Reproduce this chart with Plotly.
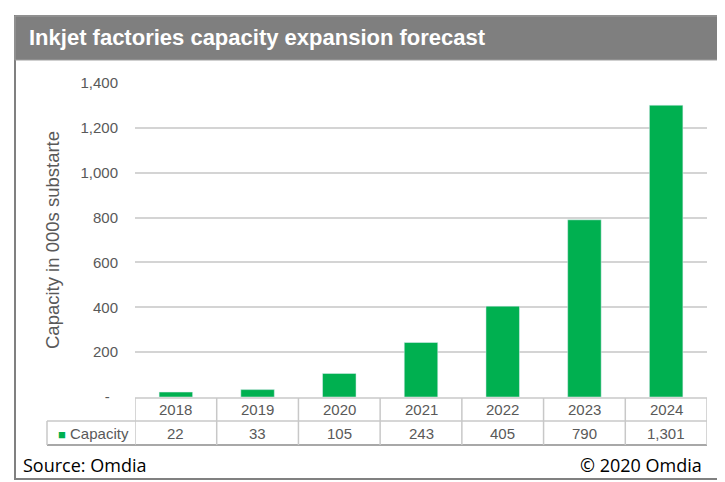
import plotly.graph_objects as go

# ---- data ----
years = ["2018", "2019", "2020", "2021", "2022", "2023", "2024"]
capacity = [22, 33, 105, 243, 405, 790, 1301]
series_name = "Capacity"
y_tickvals = [0, 200, 400, 600, 800, 1000, 1200, 1400]
y_ticktext = ["-\u00a0\u00a0", "200", "400", "600", "800", "1,000", "1,200", "1,400"]
title_text = "Inkjet factories capacity expansion forecast"
y_title = "Capacity in 000s substarte"
source_text = "Source: Omdia"
copyright_text = "© 2020 Omdia"

# ---- layout geometry (page body has an 8px margin) ----
OFF = 8
VW, VH = 725, 482
W, H = VW - OFF, VH - OFF
PLOT_LEFT, PLOT_RIGHT, PLOT_TOP, PLOT_BOTTOM = 135, 707, 83, 397   # viewport px
L = PLOT_LEFT - OFF
R = W - (PLOT_RIGHT - OFF)
T = PLOT_TOP - OFF
B = H - (PLOT_BOTTOM - OFF)
PW, PH = W - L - R, H - T - B
GREEN = "#00b050"
GREY_TXT = "#595959"
FONT = "Liberation Sans, Arial, sans-serif"


def px(x):
    # viewport pixel -> paper fraction
    return (x - OFF - L) / PW


def py(y):
    return (H - B - (y - OFF)) / PH


fig = go.Figure()
fig.add_trace(go.Bar(x=years, y=capacity, name=series_name, marker_color=GREEN,
                     width=0.41, showlegend=False))

shapes = []
shapes.append(dict(type="rect", xref="paper", yref="paper", x0=px(15), x1=px(735),
                   y0=py(16), y1=py(479), fillcolor="white",
                   line=dict(color="#808080", width=2), layer="below"))
shapes.append(dict(type="rect", xref="paper", yref="paper", x0=px(15), x1=px(735),
                   y0=py(16), y1=py(60), fillcolor="#7f7f7f",
                   line=dict(color="#a0a0a0", width=1), layer="below"))

TBL = "#c8c8c8"
top, mid, bot = 398, 421, 445
n = len(years)
shapes.append(dict(type="line", xref="x", yref="paper", x0=-0.5, x1=n - 0.5,
                   y0=py(top), y1=py(top), line=dict(color=TBL, width=1.5)))
shapes.append(dict(type="line", xref="paper", yref="paper", x0=px(47), x1=1,
                   y0=py(mid), y1=py(mid), line=dict(color=TBL, width=1.5)))
shapes.append(dict(type="line", xref="paper", yref="paper", x0=px(47), x1=1,
                   y0=py(bot), y1=py(bot), line=dict(color="#a8a8a8", width=2)))
shapes.append(dict(type="line", xref="paper", yref="paper", x0=px(47), x1=px(47),
                   y0=py(mid), y1=py(bot), line=dict(color=TBL, width=1.5)))
for i in range(n + 1):
    shapes.append(dict(type="line", xref="x", yref="paper", x0=i - 0.5, x1=i - 0.5,
                       y0=py(top), y1=py(bot), line=dict(color=TBL, width=1.5)))

annotations = []
annotations.append(dict(text=title_text, xref="paper", yref="paper", x=px(27), y=py(38),
                        xanchor="left", yanchor="middle", showarrow=False,
                        font=dict(family=FONT, size=22, color="white", weight="bold")))
annotations.append(dict(text=y_title, xref="paper", yref="paper", x=px(52), y=py(240),
                        xanchor="center", yanchor="middle", textangle=-90, showarrow=False,
                        font=dict(family=FONT, size=18.5, color=GREY_TXT)))
for i, (yr, v) in enumerate(zip(years, capacity)):
    annotations.append(dict(text=yr, xref="x", yref="paper", x=i, y=py((top + mid) / 2),
                            xanchor="center", yanchor="middle", showarrow=False,
                            font=dict(family=FONT, size=15, color=GREY_TXT)))
    annotations.append(dict(text=f"{v:,}", xref="x", yref="paper", x=i, y=py((mid + bot) / 2),
                            xanchor="center", yanchor="middle", showarrow=False,
                            font=dict(family=FONT, size=15, color=GREY_TXT)))
annotations.append(dict(text=f'<span style="color:{GREEN};font-size:13px">■</span> {series_name}',
                        xref="paper", yref="paper", x=px(131), y=py((mid + bot) / 2),
                        xanchor="right", yanchor="middle", showarrow=False,
                        font=dict(family=FONT, size=15, color=GREY_TXT)))
annotations.append(dict(text=source_text, xref="paper", yref="paper", x=px(21), y=py(465),
                        xanchor="left", yanchor="middle", showarrow=False,
                        font=dict(family="Open Sans, sans-serif", size=18, color="black")))
annotations.append(dict(text=copyright_text, xref="paper", yref="paper", x=px(704), y=py(465),
                        xanchor="right", yanchor="middle", showarrow=False,
                        font=dict(family="Open Sans, sans-serif", size=18, color="black")))

fig.update_layout(
    width=W, height=H,
    margin=dict(l=L, r=R, t=T, b=B),
    paper_bgcolor="white",
    plot_bgcolor="rgba(0,0,0,0)",
    shapes=shapes,
    annotations=annotations,
    xaxis=dict(showticklabels=False, showgrid=False, zeroline=False, showline=False,
               ticks="", range=[-0.5, n - 0.5]),
    yaxis=dict(range=[0, 1400], tickvals=y_tickvals, ticktext=y_ticktext,
               showgrid=True, gridcolor="#d4d4d4", gridwidth=1.5, zeroline=False,
               showline=False, ticks="", ticklabelstandoff=16,
               tickfont=dict(family=FONT, size=15, color=GREY_TXT)),
)

fig.write_html("out.html")
